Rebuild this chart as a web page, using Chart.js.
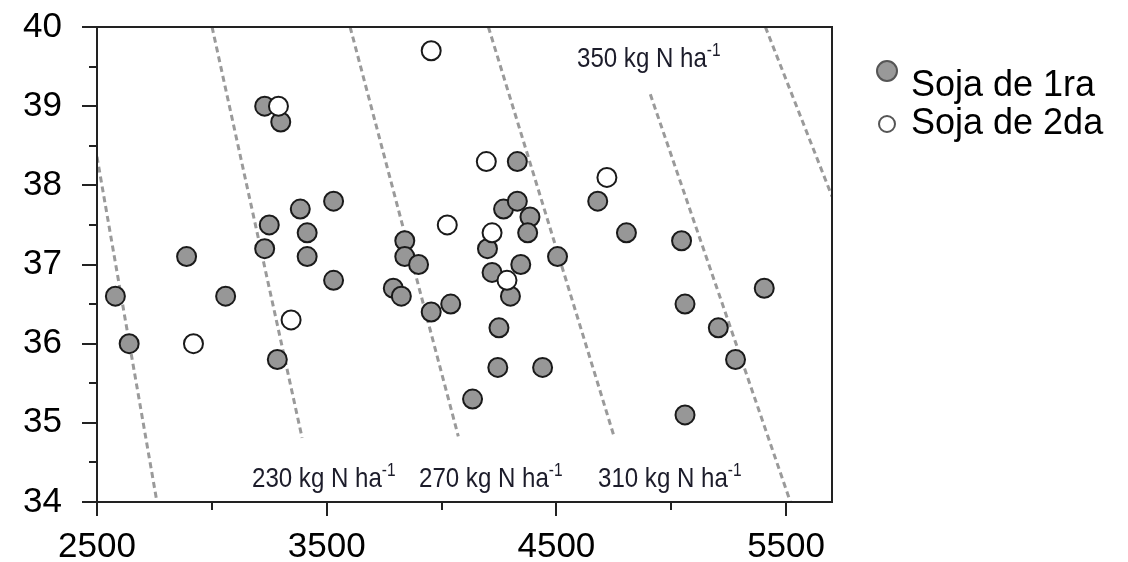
<!DOCTYPE html>
<html>
<head>
<meta charset="utf-8">
<script src="https://cdn.jsdelivr.net/npm/chart.js@4"></script>
<style>
  html, body { margin: 0; padding: 0; background: #fff; }
</style>
</head>
<body>
<canvas id="scatterChart" width="1128" height="562"></canvas>
<script>
// Soja de 1ra: rendimiento (kg/ha) vs proteina (%)
const primeraX = [2580, 2640, 2890, 3060, 3230, 3300, 3250, 3230, 3285, 3385, 3415, 3415, 3530, 3530,
  3790, 3825, 3840, 3840, 3900, 3955, 4040, 4135, 4200, 4220, 4250, 4245, 4270, 4300, 4330, 4330,
  4345, 4385, 4375, 4440, 4505, 4680, 4805, 5045, 5060, 5060, 5205, 5280, 5405];
const primeraY = [36.6, 36.0, 37.1, 36.6, 39.0, 38.8, 37.5, 37.2, 35.8, 37.7, 37.4, 37.1, 37.8, 36.8,
  36.7, 36.6, 37.3, 37.1, 37.0, 36.4, 36.5, 35.3, 37.2, 36.9, 36.2, 35.7, 37.7, 36.6, 38.3, 37.8,
  37.0, 37.6, 37.4, 35.7, 37.1, 37.8, 37.4, 37.3, 36.5, 35.1, 36.2, 35.8, 36.7];

// Soja de 2da
const segundaX = [3290, 3955, 4195, 4720, 4025, 4220, 4285, 3345, 2920];
const segundaY = [39.0, 39.7, 38.3, 38.1, 37.5, 37.4, 36.8, 36.3, 36.0];

// iso-lineas de N (extremos de cada linea punteada)
const isoX = [[2500, 2761], [3001, 3393], [3602, 4073], [4204, 4753], [4909, 5519], [5410, 5700]];
const isoY = [[38.36, 34.0], [40.0, 34.81], [40.0, 34.83], [40.0, 34.81], [39.15, 34.0], [40.0, 37.86]];
const isoLabels = ['', '230', '270', '310', '350', ''];

const xTickLabels = [2500, 3500, 4500, 5500];
const xMinorTicks = [3000, 4000, 5000];
const yTickLabels = [34, 35, 36, 37, 38, 39, 40];
const yMinorTicks = [34.5, 35.5, 36.5, 37.5, 38.5, 39.5];

function toPoints(xs, ys) {
  return xs.map((x, i) => ({ x: x, y: ys[i] }));
}

function tickList(major, minor) {
  return major.concat(minor).sort((a, b) => a - b).map(v => ({ value: v }));
}

const lineDatasets = isoX.map((xs, i) => ({
  label: isoLabels[i] ? isoLabels[i] + ' kg N ha-1' : 'iso',
  data: toPoints(xs, isoY[i]),
  showLine: true,
  borderColor: '#9a9a9a',
  borderWidth: 3,
  borderDash: [6, 4],
  pointRadius: 0,
  fill: false,
  order: 5
}));

// texto de las lineas + ticks + marco + leyenda
const decor = {
  id: 'decor',
  afterDatasetsDraw(chart) {
    const ctx = chart.ctx;
    const a = chart.chartArea;
    const xs = chart.scales.x, ys = chart.scales.y;
    ctx.save();
    ctx.strokeStyle = '#222';
    ctx.lineWidth = 2;
    ctx.strokeRect(a.left, a.top, a.right - a.left, a.bottom - a.top);

    ctx.beginPath();
    xs.ticks.forEach(t => {
      const px = Math.round(xs.getPixelForValue(t.value));
      const len = xTickLabels.includes(t.value) ? 14 : 8;
      ctx.moveTo(px, a.bottom);
      ctx.lineTo(px, a.bottom + len);
    });
    ys.ticks.forEach(t => {
      const py = Math.round(ys.getPixelForValue(t.value));
      const len = yTickLabels.includes(t.value) ? 15 : 8;
      ctx.moveTo(a.left, py);
      ctx.lineTo(a.left - len, py);
    });
    ctx.stroke();

    // etiquetas de dosis de N
    const spots = [[252, 487], [419, 487], [598, 487], [577, 67]];
    const names = isoLabels.filter(s => s);
    ctx.fillStyle = '#1c1c2a';
    ctx.textBaseline = 'alphabetic';
    ctx.textAlign = 'left';
    names.forEach((n, i) => {
      const [px, py] = spots[i];
      ctx.save();
      ctx.translate(px, py);
      ctx.scale(0.86, 1);
      ctx.font = '28px "Liberation Sans", Arial, sans-serif';
      const txt = n + ' kg N ha';
      ctx.fillText(txt, 0, 0);
      const w = ctx.measureText(txt).width;
      ctx.font = '18px "Liberation Sans", Arial, sans-serif';
      ctx.fillText('-1', w, -11);
      ctx.restore();
    });

    // leyenda
    ctx.lineWidth = 2;
    ctx.beginPath();
    ctx.arc(887, 71, 10, 0, Math.PI * 2);
    ctx.fillStyle = '#999';
    ctx.fill();
    ctx.strokeStyle = '#555';
    ctx.stroke();
    ctx.beginPath();
    ctx.arc(887, 124, 8, 0, Math.PI * 2);
    ctx.fillStyle = '#fff';
    ctx.fill();
    ctx.strokeStyle = '#555';
    ctx.stroke();
    ctx.fillStyle = '#000';
    ctx.font = '36px "Liberation Sans", Arial, sans-serif';
    ctx.fillText('Soja de 1ra', 911, 96);
    ctx.fillText('Soja de 2da', 911, 134);
    ctx.restore();
  }
};

const chart = new Chart(document.getElementById('scatterChart'), {
  type: 'scatter',
  data: {
    datasets: [
      {
        label: 'Soja de 1ra',
        data: toPoints(primeraX, primeraY),
        backgroundColor: '#979797',
        borderColor: '#1a1a1a',
        borderWidth: 2,
        pointRadius: 9.5,
        order: 2
      },
      {
        label: 'Soja de 2da',
        data: toPoints(segundaX, segundaY),
        backgroundColor: '#ffffff',
        borderColor: '#1a1a1a',
        borderWidth: 2,
        pointRadius: 9.5,
        order: 1
      },
      ...lineDatasets
    ]
  },
  options: {
    responsive: false,
    animation: false,
    devicePixelRatio: 1,
    layout: { padding: { top: 27, right: 296, left: 0, bottom: 0 } },
    plugins: {
      legend: { display: false },
      tooltip: { enabled: false }
    },
    scales: {
      x: {
        type: 'linear',
        min: 2500,
        max: 5700,
        grid: { display: false, drawTicks: false },
        border: { display: false },
        afterBuildTicks: s => { s.ticks = tickList(xTickLabels, xMinorTicks); },
        ticks: {
          maxRotation: 0,
          autoSkip: false,
          padding: 24,
          color: '#000',
          font: { family: '"Liberation Sans", Arial, sans-serif', size: 35 },
          callback: v => xTickLabels.includes(v) ? String(v) : ''
        },
        afterFit: s => { s.height = 60; }
      },
      y: {
        min: 34,
        max: 40,
        grid: { display: false, drawTicks: false },
        border: { display: false },
        afterBuildTicks: s => { s.ticks = tickList(yTickLabels, yMinorTicks); },
        ticks: {
          autoSkip: false,
          padding: 35,
          color: '#000',
          font: { family: '"Liberation Sans", Arial, sans-serif', size: 35 },
          callback: v => yTickLabels.includes(v) ? String(v) : ''
        },
        afterFit: s => { s.width = 97; s.paddingTop = 0; s.paddingBottom = 0; }
      }
    }
  },
  plugins: [decor]
});
</script>
</body>
</html>
